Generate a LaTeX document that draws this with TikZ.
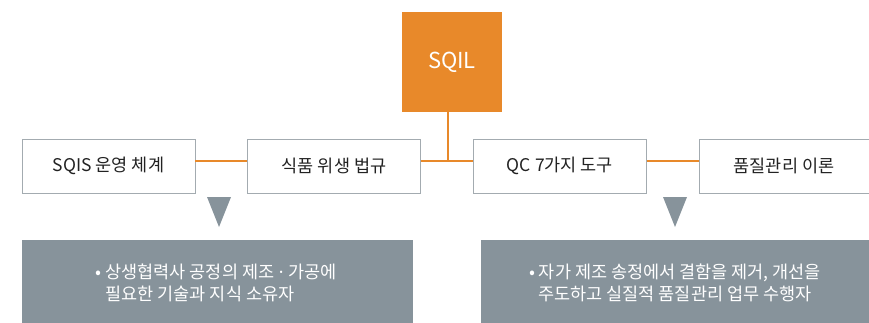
\documentclass[tikz,border=0pt]{standalone}
\usepackage{fontspec}
\setmainfont{Noto Sans CJK KR}
\newfontfamily\latinfont{Noto Sans}
\definecolor{sqorange}{HTML}{E8892A}
\definecolor{sqgray}{HTML}{87939B}
\definecolor{sqborder}{HTML}{A3ABB0}
\definecolor{sqtext}{HTML}{222222}
\tikzset{
  topicbox/.style={draw=sqborder, line width=0.8pt, fill=white, minimum width=173pt, minimum height=54pt, inner sep=0pt, text=sqtext, font=\fontsize{17.5}{20}\selectfont},
  link/.style={draw=sqorange, line width=2.2pt},
  pointer/.style={fill=sqgray, draw=none},
  infobox/.style={fill=sqgray, draw=none, anchor=north west, inner sep=0pt},
  infotext/.style={text=white, font=\fontsize{17.5}{22}\selectfont},
}
\begin{document}
\begin{tikzpicture}[x=1pt,y=-1pt]
\useasboundingbox (0,0) rectangle (869,323);
% SQIL
\node[fill=sqorange, minimum width=100pt, minimum height=100pt, inner sep=0pt, text=white, font=\fontsize{22}{26}\selectfont] (sqil) at (452,62) {SQIL};
% topic boxes
\node[topicbox] (b1) at (108.5,166) {SQIS 운영 체계};
\node[topicbox] (b2) at (334,166) {식품 위생 법규};
\node[topicbox] (b3) at (560,166) {QC 7가지 도구};
\node[topicbox, minimum width=170pt] (b4) at (784,166) {품질관리 이론};
% connectors
\coordinate (j) at (448,161);
\draw[link] (j |- sqil.south) -- (j);
\draw[link] (b2.east |- j) -- (b3.west |- j);
\draw[link] (b1.east |- j) -- (b2.west |- j);
\draw[link] (b3.east |- j) -- (b4.west |- j);
% pointers
\fill[pointer] (207,197) -- (231,197) -- (219,227) -- cycle;
\fill[pointer] (663,197) -- (687,197) -- (675,227) -- cycle;
% info boxes
\node[infobox, minimum width=391pt, minimum height=84pt] (g1) at (22,240) {};
\node[infobox, minimum width=389pt, minimum height=84pt] (g2) at (481,240) {};
\node[infotext, align=left] (t1) at (216,283) {• 상생협력사 공정의 제조{\latinfont\ ·\ }가공에\\\phantom{• }필요한 기술과 지식 소유자};
\node[infotext, align=center] (t2) at (675,283) {• 자가 제조 송정에서 결함을 제거, 개선을\\주도하고 실질적 품질관리 업무 수행자};
\end{tikzpicture}
\end{document}
